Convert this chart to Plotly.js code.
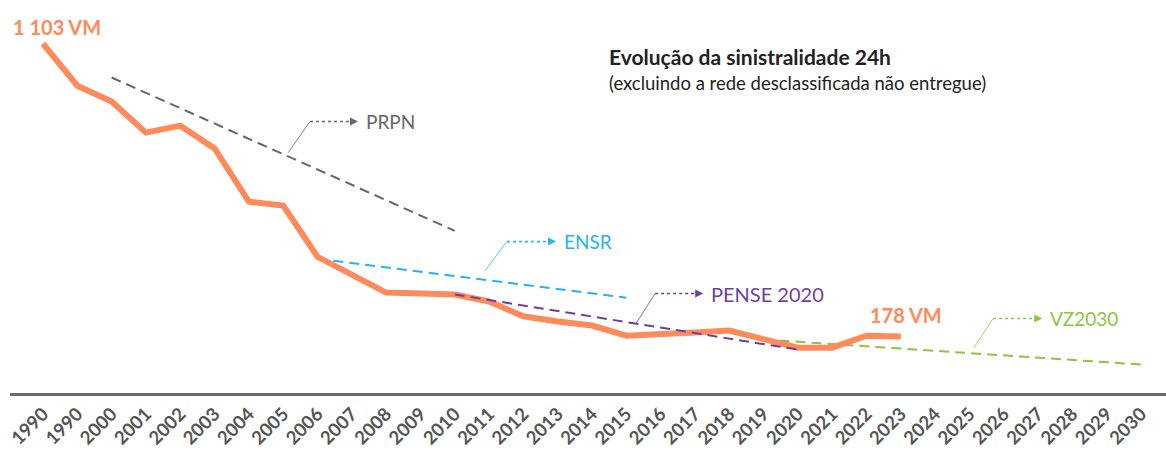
<!DOCTYPE html>
<html>
<head>
<meta charset="utf-8">
<script src="https://cdn.plot.ly/plotly-3.0.1.min.js"></script>
<style>html,body{margin:0;padding:0;background:#fff;}#chart{width:1166px;height:450px;}</style>
</head>
<body>
<div id="chart"></div>
<script>
// Tick labels (the reference repeats "1990")
const tickLabels = ['1990','1990','2000','2001','2002','2003','2004','2005','2006','2007','2008','2009','2010',
  '2011','2012','2013','2014','2015','2016','2017','2018','2019','2020','2021','2022','2023',
  '2024','2025','2026','2027','2028','2029','2030'];

// Fatalities (VM, 24h) – actual series, one per label up to 2023
const deaths = [1103, 970, 920, 822, 844, 772, 604, 592, 430, 374, 317, 314, 311,
  289, 242, 226, 213, 181, 188, 191, 197, 172, 143, 143, 181, 178];

// Plan target lines (start year, end year) and (start value, end value)
const prpnYears = ['2000','2010'];   const prpnValues = [996, 512];
const ensrYears = ['2006','2015'];   const ensrValues = [424, 301];
const penseYears = ['2010','2020'];  const penseValues = [311, 137];
const vzYears = ['2019','2030'];     const vzValues = [169, 90];

const pos = y => tickLabels.lastIndexOf(y);
const xIdx = deaths.map((_, i) => i);

const ORANGE = '#FF8A5C', GREY = '#666666', BLUE = '#29B3E6', PURPLE = '#6E3FA3', GREEN = '#8CC63F';
const FONT = 'Lato, "Open Sans", sans-serif';

const traces = [
  {x: prpnYears.map(pos), y: prpnValues, mode: 'lines', line: {color: GREY, width: 2, dash: '10px,6px'}, hoverinfo: 'skip'},
  {x: ensrYears.map(pos), y: ensrValues, mode: 'lines', line: {color: BLUE, width: 2, dash: '10px,6px'}, hoverinfo: 'skip'},
  {x: vzYears.map(pos), y: vzValues, mode: 'lines', line: {color: GREEN, width: 2, dash: '10px,6px'}, hoverinfo: 'skip'},
  {x: xIdx, y: deaths, mode: 'lines', line: {color: ORANGE, width: 6, shape: 'linear'}, hoverinfo: 'x+y'},
  {x: penseYears.map(pos), y: penseValues, mode: 'lines', line: {color: PURPLE, width: 2, dash: '10px,6px'}, hoverinfo: 'skip'}
];

// leader callouts: [slant start x, slant start y, elbow x, elbow y, arrow end x, label, colour, font size]
const callouts = [
  [7.14, 758, 7.78, 857, 9.18, 'PRPN', GREY, 19],
  [12.88, 386, 13.52, 478, 14.95, 'ENSR', BLUE, 19],
  [17.28, 219, 17.84, 314, 19.24, 'PENSE 2020', PURPLE, 20],
  [27.13, 143, 27.69, 235, 29.12, 'VZ2030', GREEN, 19]
];

const shapes = [];
const annotations = [];
callouts.forEach(c => {
  const [sx, sy, ex, ey, ax, label, col, fs] = c;
  shapes.push({type: 'line', xref: 'x', yref: 'y', x0: sx, y0: sy, x1: ex, y1: ey, line: {color: col, width: 0.8}});
  shapes.push({type: 'line', xref: 'x', yref: 'y', x0: ex, y0: ey, x1: ax - 0.05, y1: ey, line: {color: col, width: 1.6, dash: 'dot'}});
  annotations.push({x: ax, y: ey, xref: 'x', yref: 'y', text: '', showarrow: true, arrowhead: 2, arrowsize: 1, arrowwidth: 1.6, arrowcolor: col, ax: -4, ay: 0});
  annotations.push({x: ax + 0.17, y: ey, xref: 'x', yref: 'y', text: label, showarrow: false, xanchor: 'left', yanchor: 'middle',
    font: {family: FONT, size: fs, color: col}});
});

annotations.push({x: 0, y: deaths[0], xref: 'x', yref: 'y', text: '<b>1 103 VM</b>', showarrow: false,
  xanchor: 'center', yanchor: 'bottom', xshift: 14, yshift: 3, font: {family: FONT, size: 20, color: ORANGE}});
annotations.push({x: deaths.length - 1, y: deaths[deaths.length - 1], xref: 'x', yref: 'y', text: '<b>178 VM</b>', showarrow: false,
  xanchor: 'left', yanchor: 'bottom', xshift: -33, yshift: 8, font: {family: FONT, size: 20, color: ORANGE}});

annotations.push({x: 0.5164, y: 1 - 42 / 393, xref: 'paper', yref: 'paper', text: '<b>Evolução da sinistralidade 24h</b>', showarrow: false,
  xanchor: 'left', yanchor: 'top', font: {family: FONT, size: 21, color: '#222'}});
annotations.push({x: 0.5164, y: 1 - 70 / 393, xref: 'paper', yref: 'paper', text: '(excluindo a rede desclassificada não entregue)', showarrow: false,
  xanchor: 'left', yanchor: 'top', font: {family: FONT, size: 18.5, color: '#222'}});

const layout = {
  width: 1166, height: 450,
  margin: {l: 10, r: 0, t: 0, b: 57},
  paper_bgcolor: '#fff', plot_bgcolor: '#fff',
  showlegend: false,
  xaxis: {
    range: [-0.9617, 32.7286],
    tickmode: 'array', tickvals: tickLabels.map((_, i) => i), ticktext: tickLabels,
    tickangle: -45, ticks: '', showgrid: false, zeroline: false,
    showline: true, linecolor: '#6b6b6b', linewidth: 3,
    tickfont: {family: FONT, size: 18.5, color: '#555', weight: 'bold'},
    fixedrange: true
  },
  yaxis: {range: [0, 1240.7], visible: false, showgrid: false, zeroline: false, fixedrange: true},
  shapes: shapes,
  annotations: annotations
};

Plotly.newPlot('chart', traces, layout, {displayModeBar: false, staticPlot: true});
</script>
</body>
</html>
